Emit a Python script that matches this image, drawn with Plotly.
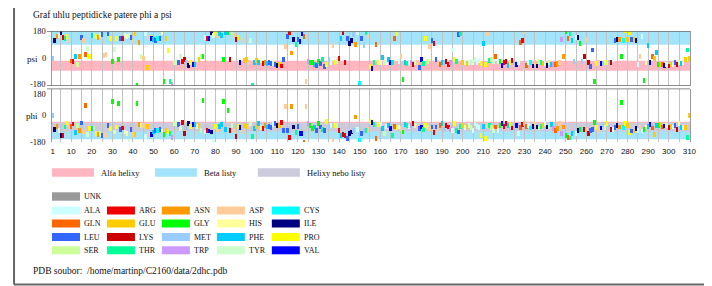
import plotly.graph_objects as go

# ---------------- data ----------------
SEQ = ("MINAIRTPDQRFSNLDQYPFSPNYLDDLPGYPGLRAHYLDEGNSDAEDVFLCLHGEPTWSYLYRKMIPVF"
       "AESGARVIAPDFFGFGKSDKPVDEEDYTFEFHRNFLLALIERLDLRNITLVVQDWGGFLGLTLPMADPSR"
       "FKRLIIMNACLMTDPVTQPAFSAFVTQPADGFTAWKYDLVTPSDLRLDQFMKRWAPTLTEAEASAYAAPF"
       "PDTSYQAGVRKFPKMVAQRDQACIDISTEAISFWQNDWNGQTFMAIGMKDKLLGPDVMYPMKALINGCPE"
       "PLEIADAGHFVQEFGEQVAREALKHFAETE")

psi = [
    0, 120, 143, 150, 170, 136, 130, 143, 120, -17,
    -21, 11, -39, 15, 136, 120, 27, 66, 15, 149,
    150, 143, 140, 150, 155, 18, 27, 160, 130, -20,
    60, 133, -5, 130, 130, 150, 145, 150, 140, 110,
    165, -176, 105, 15, 0, 160, -60, 140, 130, 125,
    115, 130, 130, 170, -150, 130, 50, -155, -170, -25,
    -30, -30, 15, -20, -10, -30, -45, -30, -40, -40,
    -5, -5, 10, 15, 140, 130, 130, 170, 150, 165,
    150, 165, 150, -10, 170, 170, -5, 170, 150, 125,
    140, -25, 115, -15, -10, -25, 120, -176, -30, -15,
    -30, -15, -35, -25, -35, -30, -35, -35, -40, -45,
    -40, -50, -10, 80, 145, 170, 35, 125, 90, 125,
    110, 160, 145, -150, -20, -30, -30, -40, -45, -20,
    -35, -5, -55, -40, -10, -30, 85, -30, -20, 0,
    130, 170, -30, 130, 100, 115, 155, 90, 170, -165,
    130, 85, 170, 145, -55, -65, -30, 90, -30, -30,
    5, -30, -30, -5, -30, -30, 130, 165, -20, 15,
    -140, -25, -35, -30, -30, -40, -30, -30, -60, -10,
    -35, 130, -20, 80, 120, 100, -10, -25, -40, -30,
    -30, -20, -40, -25, 55, -10, -20, 155, 160, -25,
    -30, -35, -30, -25, -30, -10, -25, -15, -35, 100,
    -40, 165, -15, -10, -20, 10, -20, -20, -45, -30,
    -20, -45, -30, -15, -30, -40, -25, 105, 115, 175,
    -45, -30, -30, -50, -30, -50, -20, -30, -35, -35,
    -45, -30, -40, -40, -40, -35, -30, 125, 15, 175,
    130, 160, 120, -20, 140, 135, 95, -20, 10, 125,
    -25, -55, 55, -150, -35, -30, -35, -35, -30, -30,
    -30, -25, -10, 120, 125, 125, 10, 120, 180, 125,
    170, 125, 125, 115, -40, 15, 145, -145, -30, 85,
    -25, 10, 0, 40, -40, -40, -40, -45, -40, -50,
    -40, -40, -25, -40, -30, -35, -30, -10, 55, 0,
]

phi = [
    0, -94, -71, -100, -132, -132, -76, -49, -71, -71,
    -56, -114, -68, -98, -49, -110, 67, -128, -87, -87,
    -82, -121, -128, -120, -132, -128, -132, -68, -87, 95,
    -110, -76, 83, -94, -82, -110, -121, -173, -94, -128,
    -128, 83, -60, -68, -68, -140, -71, -128, -128, -110,
    -98, -100, -94, -103, -128, -98, -110, -117, -148, -53,
    -53, -60, -87, -46, -117, -80, -53, -71, -60, -58,
    -71, -64, -98, 105, -110, -98, -103, -110, -178, -71,
    -94, -71, -60, 94, -90, 37, -98, -64, -100, -140,
    -71, -80, -110, -64, -71, -76, -53, -140, -87, -76,
    -53, -80, -87, -64, -76, -71, -80, -60, -53, -64,
    -64, -46, -98, 60, -98, -144, 60, -76, -114, -71,
    -121, -121, -178, 60, -53, -64, -87, -76, -98, -53,
    -76, -94, -98, -37, -76, -64, -166, -64, -64, -98,
    -132, -128, -132, -155, -121, -110, -98, -8, -94, -166,
    -121, -98, -98, -94, -37, -46, -60, -155, -60, -60,
    -87, -121, -71, -64, -87, -132, -71, -80, -75, -85,
    -110, -60, -64, -71, -64, -53, -64, -76, -87, -76,
    -94, -64, -76, -87, -76, -114, -76, -87, -64, -53,
    -94, -64, -76, -94, -98, -53, -98, -110, -71, -64,
    -80, -70, -64, -80, -98, -53, -70, -80, -132, -71,
    -155, -64, -64, -80, -98, -76, -98, -64, -53, -71,
    -53, -64, -60, -83, -87, -64, -117, -80, -60, -53,
    -71, -64, -83, -71, -60, -76, -83, -71, -64, -53,
    -76, -71, -60, -87, -98, -87, -53, -121, -76, -132,
    -144, -150, -121, -110, -121, -98, -94, -94, -94, -94,
    -117, -98, -94, -46, -80, -98, -83, -60, -80, -53,
    -75, -94, -94, -80, -64, -75, 90, -80, -53, -64,
    -114, -103, -103, -87, -98, -76, -103, -94, -76, -71,
    -60, -83, -125, -64, -64, -60, -76, -69, -64, -80,
    -71, -76, -64, -94, -53, -80, -80, -80, -144, 0,
]

THREE = {"A": "ALA", "R": "ARG", "N": "ASN", "D": "ASP", "C": "CYS", "Q": "GLN",
         "E": "GLU", "G": "GLY", "H": "HIS", "I": "ILE", "L": "LEU", "K": "LYS",
         "M": "MET", "F": "PHE", "P": "PRO", "S": "SER", "T": "THR", "W": "TRP",
         "Y": "TYR", "V": "VAL"}

RES_COLORS = {
    "UNK": "#999999", "ALA": "#ccffff", "ARG": "#ee0000", "ASN": "#ff9900",
    "ASP": "#ffcc99", "CYS": "#00ffff", "GLN": "#ff6600", "GLU": "#ffcc00",
    "GLY": "#00ff00", "HIS": "#ffff99", "ILE": "#000080", "LEU": "#3366ff",
    "LYS": "#cc0000", "MET": "#99ccff", "PHE": "#00ccff", "PRO": "#ffff00",
    "SER": "#ccff99", "THR": "#00ff99", "TRP": "#cc99ff", "TYR": "#ccffcc",
    "VAL": "#0000ff",
}
LEGEND_ROWS = [["ALA", "ARG", "ASN", "ASP", "CYS"],
               ["GLN", "GLU", "GLY", "HIS", "ILE"],
               ["LEU", "LYS", "MET", "PHE", "PRO"],
               ["SER", "THR", "TRP", "TYR", "VAL"]]

grid_vals = list(range(5, 311, 5))
x_tick_vals = [1] + grid_vals
x_tick_text = ["1"] + [str(v) if v % 10 == 0 else "" for v in grid_vals]
y_tick_vals = [180, 0, -180]

# secondary structure regions (degrees)
PSI_ALPHA = (-82, -16)
PSI_BETA = (90, 178)
PHI_ALPHA = (-110, -44)
PHI_BETA = (-162, -53)

ALPHA_COL = "#ffb6c1"
BETA_COL = "#a3e4fb"
BOTH_COL = "#cbcbdb"

# ---------------- figure ----------------
residues = list(range(1, len(SEQ) + 1))
types = [THREE[c] for c in SEQ]
cols = [RES_COLORS[t] for t in types]
BAR_H = 32
BAR_W = 1.2

OFF = 8  # page body margin
L, T, W, H = 52 - OFF, 31 - OFF, 638.5, 111
FIG_W, FIG_H = 712 - OFF, 286 - OFF


def px(x):
    return (x - OFF - L) / W


def py(y):
    return 1 - (y - OFF - T) / H


SERIF = "Liberation Serif, Times New Roman, serif"

fig = go.Figure()
fig.add_trace(go.Bar(x=residues, y=[BAR_H] * len(psi), base=[v - BAR_H / 2 for v in psi],
                     width=BAR_W, marker=dict(color=cols, line=dict(width=0)),
                     xaxis="x2", yaxis="y", showlegend=False, hoverinfo="skip"))
fig.add_trace(go.Bar(x=residues, y=[BAR_H] * len(phi), base=[v - BAR_H / 2 for v in phi],
                     width=BAR_W, marker=dict(color=cols, line=dict(width=0)),
                     xaxis="x", yaxis="y2", showlegend=False, hoverinfo="skip"))

psi_dom = [(142 - 85.7) / H, 1]
phi_dom = [0, (142 - 88.5) / H]
xr = [0.7, 310.3]

axis_common = dict(range=xr, showgrid=True, gridcolor="#c2c2c2", gridwidth=1,
                   zeroline=False, showline=False, ticks="", tickmode="array",
                   tickvals=x_tick_vals)
yaxis_common = dict(range=[-180, 180], showgrid=False, zeroline=False, showticklabels=False,
                    showline=True, linecolor="#999999", mirror=True, ticks="")
fig.update_layout(
    width=FIG_W, height=FIG_H, margin=dict(l=L, r=FIG_W - L - W, t=T, b=FIG_H - T - H),
    paper_bgcolor="white", plot_bgcolor="white", barmode="overlay", bargap=0,
    xaxis=dict(domain=[0, 1], anchor="y2", ticktext=x_tick_text, ticklabelstandoff=3,
               tickfont=dict(family="Liberation Sans, Arial, sans-serif", size=8, color="#111"),
               **axis_common),
    xaxis2=dict(domain=[0, 1], anchor="y", matches="x", showticklabels=False, **axis_common),
    yaxis=dict(domain=psi_dom, **yaxis_common),
    yaxis2=dict(domain=phi_dom, **yaxis_common),
)

shapes = []
# bands
for yref, (lo, hi), col in [("y", PSI_ALPHA, ALPHA_COL), ("y", PSI_BETA, BETA_COL),
                            ("y2", PHI_ALPHA, ALPHA_COL), ("y2", PHI_BETA, BETA_COL)]:
    shapes.append(dict(type="rect", xref="paper", yref=yref, x0=0, x1=1, y0=lo, y1=hi,
                       fillcolor=col, line=dict(width=0), layer="below"))
ov_lo, ov_hi = max(PHI_ALPHA[0], PHI_BETA[0]), min(PHI_ALPHA[1], PHI_BETA[1])
shapes.append(dict(type="rect", xref="paper", yref="y2", x0=0, x1=1, y0=ov_lo, y1=ov_hi,
                   fillcolor=BOTH_COL, line=dict(width=0), layer="below"))
# panel borders (dark)
for yref, v in [("y", 180), ("y", -180), ("y2", 180)]:
    shapes.append(dict(type="line", xref="paper", yref=yref, x0=px(47), x1=1, y0=v, y1=v,
                       line=dict(color="#666666", width=1.3), layer="above"))
# outer frame (four lines)
fx0, fx1, fy0, fy1 = px(14), px(707), py(2), py(284.5)
for (a, b, c, d) in [(fx0, fy0, fx1, fy0), (fx0, fy1, fx1, fy1),
                     (fx0, fy0, fx0, fy1), (fx1, fy0, fx1, fy1)]:
    shapes.append(dict(type="line", xref="paper", yref="paper", x0=a, y0=b, x1=c, y1=d,
                       line=dict(color="#666666", width=2), layer="above"))

ann = []


def text(x, y, s, size=9, family=SERIF, anchor="left"):
    ann.append(dict(xref="paper", yref="paper", x=px(x), y=py(y), text=s, showarrow=False,
                    xanchor=anchor, yanchor="middle",
                    font=dict(family=family, size=size, color="#111")))


# y-axis labels
for yref, shifts in [("y", {180: 0.5, 0: 0, -180: 1.8}), ("y2", {180: -5.5, 0: 0, -180: 0.5})]:
    for v in y_tick_vals:
        ann.append(dict(xref="paper", yref=yref, x=px(47.5), y=v, text=str(v), showarrow=False,
                        xanchor="right", yanchor="middle", yshift=shifts[v],
                        font=dict(family=SERIF, size=8.5, color="#111")))

text(31, 15, "Graf uhlu peptidicke patere phi a psi", size=9.5)
text(25, 58.5, "psi", size=9)
text(24, 116, "phi", size=9)

# band legend
for x0, col, label in [(52, ALPHA_COL, "Alfa helixy"), (155, BETA_COL, "Beta listy"),
                       (258, BOTH_COL, "Helixy nebo listy")]:
    shapes.append(dict(type="rect", xref="paper", yref="paper", x0=px(x0), x1=px(x0 + 42),
                       y0=py(176.7), y1=py(168.3), fillcolor=col, line=dict(width=0)))
    text(x0 + 47, 173, label, size=8.5)

# residue legend
shapes.append(dict(type="rect", xref="paper", yref="paper", x0=px(52), x1=px(80),
                   y0=py(200.7), y1=py(192.3), fillcolor=RES_COLORS["UNK"], line=dict(width=0)))
text(82.5, 196.5, "UNK", size=8)
row_y = [210.5, 223.5, 237, 250.3]
col_x = [52, 107, 162, 217, 272]
for ri, row in enumerate(LEGEND_ROWS):
    for ci, name in enumerate(row):
        x0 = col_x[ci]
        yc = row_y[ri]
        shapes.append(dict(type="rect", xref="paper", yref="paper", x0=px(x0), x1=px(x0 + 28),
                           y0=py(yc + 4), y1=py(yc - 4), fillcolor=RES_COLORS[name],
                           line=dict(width=0)))
        text(x0 + 30.5, yc, name, size=8)

text(31, 271, "PDB soubor:  /home/martinp/C2160/data/2dhc.pdb", size=9.5)

fig.update_layout(shapes=shapes, annotations=ann)
fig.write_html("out.html")
